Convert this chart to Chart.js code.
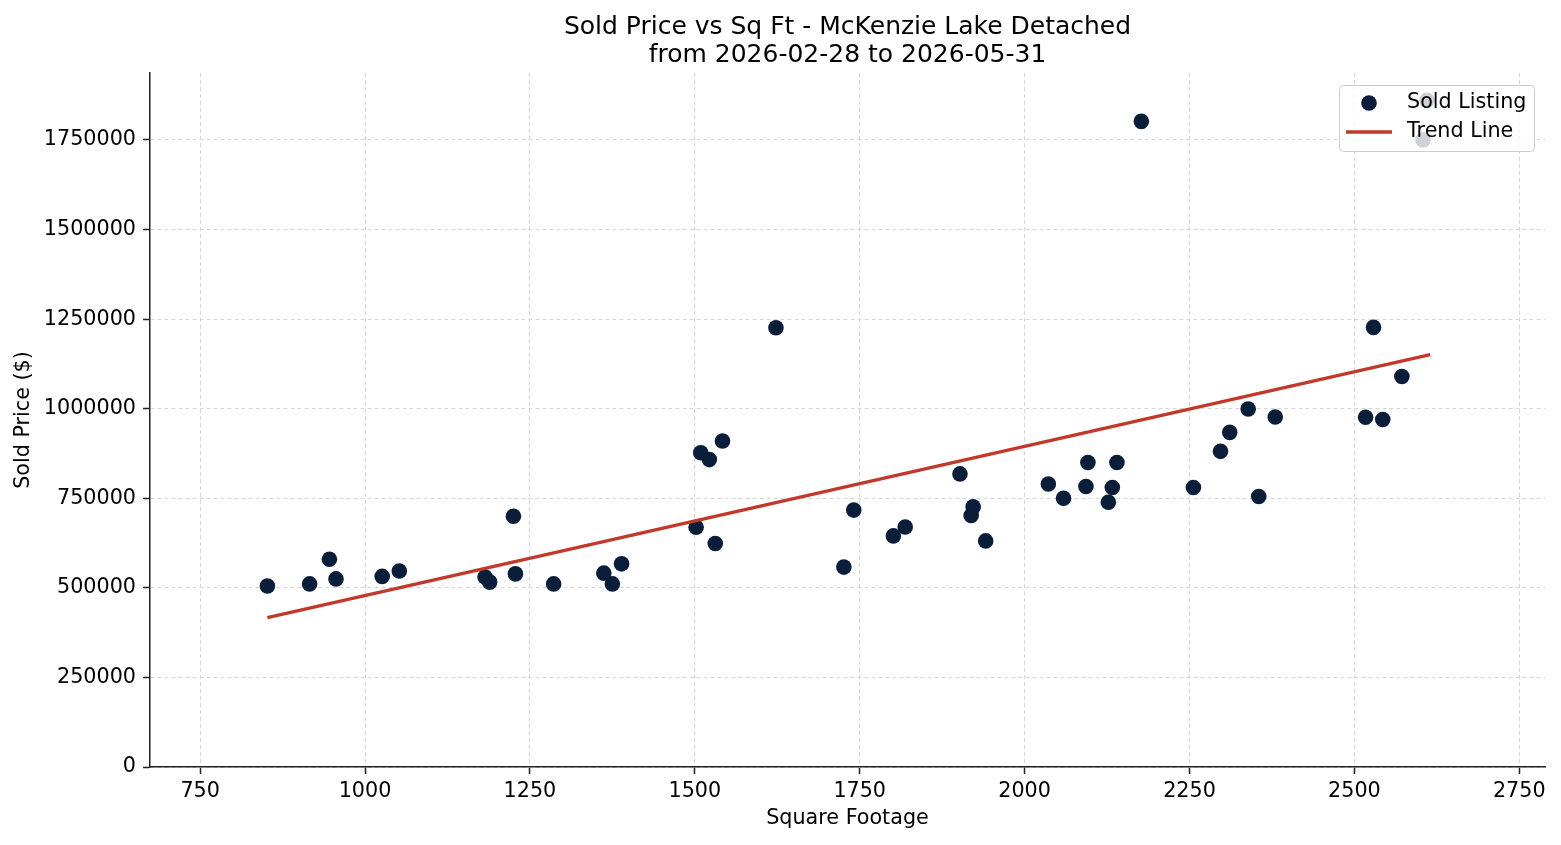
<!DOCTYPE html>
<html>
<head>
<meta charset="utf-8">
<script src="https://cdn.jsdelivr.net/npm/chart.js@4.4.1/dist/chart.umd.min.js"></script>
<style>
html, body { margin: 0; padding: 0; background: #fff; }
#wrap { width: 1561px; height: 845px; }
</style>
</head>
<body>
<div id="wrap"><canvas id="chart" width="1561" height="845"></canvas></div>
<script>
// sold listings
const sqft = [852, 916, 946, 956, 1026, 1052, 1182, 1189, 1225, 1228,
              1286, 1362, 1375, 1389, 1502, 1509, 1522, 1531, 1542, 1623,
              1726, 1741, 1801, 1819, 1902, 1919, 1922, 1941, 2036, 2059,
              2093, 2096, 2127, 2133, 2140, 2177, 2256, 2297, 2311, 2339,
              2355, 2380, 2517, 2529, 2543, 2572, 2604, 2610];
const soldPrice = [505000, 511000, 580000, 525000, 532000, 547000, 530000, 516000, 700000, 539000,
                   511000, 541000, 511000, 567000, 669000, 877000, 858000, 624000, 910000, 1226000,
                   558000, 717000, 645000, 670000, 818000, 702000, 726000, 631000, 790000, 750000,
                   783000, 850000, 739000, 780000, 850000, 1802000, 780000, 881000, 934000, 999000,
                   755000, 977000, 976000, 1227000, 970000, 1090000, 1750000, 1861000];

const trendSqft = [852, 2615];
const trendPrice = [417000, 1151000];

const xTicks = [750, 1000, 1250, 1500, 1750, 2000, 2250, 2500, 2750];
const yTicks = [0, 250000, 500000, 750000, 1000000, 1250000, 1500000, 1750000];

const titleLines = ['Sold Price vs Sq Ft - McKenzie Lake Detached', 'from 2026-02-28 to 2026-05-31'];
const legendLabels = ['Sold Listing', 'Trend Line'];

const FONT = 'DejaVu Sans';
const TXT = 20.7;

// matplotlib style legend box in the upper right of the plot
const legendBox = {
  id: 'legendBox',
  afterDraw(chart) {
    const { ctx, chartArea } = chart;
    const ds = chart.data.datasets;
    const w = 195, h = 66;
    const x = chartArea.right - 11 - w;
    const y = chartArea.top + 12;
    ctx.save();
    ctx.fillStyle = 'rgba(255,255,255,0.8)';
    ctx.strokeStyle = '#cccccc';
    ctx.lineWidth = 1;
    ctx.beginPath();
    ctx.roundRect(x + 0.5, y + 0.5, w, h, 4);
    ctx.fill();
    ctx.stroke();

    ctx.fillStyle = ds[0].backgroundColor;
    ctx.beginPath();
    ctx.arc(x + 30, y + 18, 7.8, 0, Math.PI * 2);
    ctx.fill();

    ctx.strokeStyle = ds[1].borderColor;
    ctx.lineWidth = ds[1].borderWidth;
    ctx.beginPath();
    ctx.moveTo(x + 7, y + 47);
    ctx.lineTo(x + 53, y + 47);
    ctx.stroke();

    ctx.fillStyle = '#000';
    ctx.font = TXT + 'px "' + FONT + '"';
    ctx.textBaseline = 'middle';
    ctx.textAlign = 'left';
    ctx.fillText(legendLabels[0], x + 68, y + 18);
    ctx.fillText(legendLabels[1], x + 68, y + 47);
    ctx.restore();
  }
};

const axisCommon = {
  type: 'linear',
  border: { display: true, color: '#222', width: 1.5, dash: [4, 3] },
  grid: { color: '#d6d6d6', lineWidth: 1, tickColor: '#222', tickWidth: 1.5, tickLength: 7 },
  ticks: { color: '#000', font: { family: FONT, size: TXT }, callback: v => String(v) }
};

new Chart(document.getElementById('chart'), {
  type: 'scatter',
  data: {
    datasets: [
      {
        label: legendLabels[0],
        data: sqft.map((v, i) => ({ x: v, y: soldPrice[i] })),
        backgroundColor: '#0a1e3a',
        borderWidth: 0,
        pointRadius: 7.8,
        order: 1
      },
      {
        type: 'line',
        label: legendLabels[1],
        data: trendSqft.map((v, i) => ({ x: v, y: trendPrice[i] })),
        borderColor: '#c0392b',
        borderWidth: 3.4,
        pointRadius: 0,
        fill: false,
        order: 0
      }
    ]
  },
  options: {
    responsive: false,
    animation: false,
    layout: { padding: { left: 0, right: 16, top: 0, bottom: 0 } },
    plugins: {
      legend: { display: false },
      tooltip: { enabled: false },
      title: {
        display: true,
        fullSize: false,
        text: titleLines,
        color: '#000',
        font: { family: FONT, size: 25, weight: 'normal', lineHeight: 1.12 },
        padding: { top: 13, bottom: 4 }
      }
    },
    scales: {
      x: {
        ...axisCommon,
        position: 'bottom',
        min: 674,
        max: 2789,
        ticks: { ...axisCommon.ticks, padding: 5, maxRotation: 0 },
        title: { display: true, text: 'Square Footage', color: '#000', font: { family: FONT, size: TXT }, padding: { top: 0, bottom: 14 } },
        afterBuildTicks: s => { s.ticks = xTicks.map(v => ({ value: v })); },
        afterFit: s => { s.height = 78; }
      },
      y: {
        ...axisCommon,
        position: 'left',
        min: 0,
        max: 1937000,
        ticks: { ...axisCommon.ticks, padding: 7 },
        title: { display: true, text: 'Sold Price ($)', color: '#000', font: { family: FONT, size: TXT }, padding: { top: 11, bottom: 0 } },
        afterBuildTicks: s => { s.ticks = yTicks.map(v => ({ value: v })); },
        afterFit: s => { s.width = 150; }
      }
    }
  },
  plugins: [legendBox]
});
</script>
</body>
</html>
